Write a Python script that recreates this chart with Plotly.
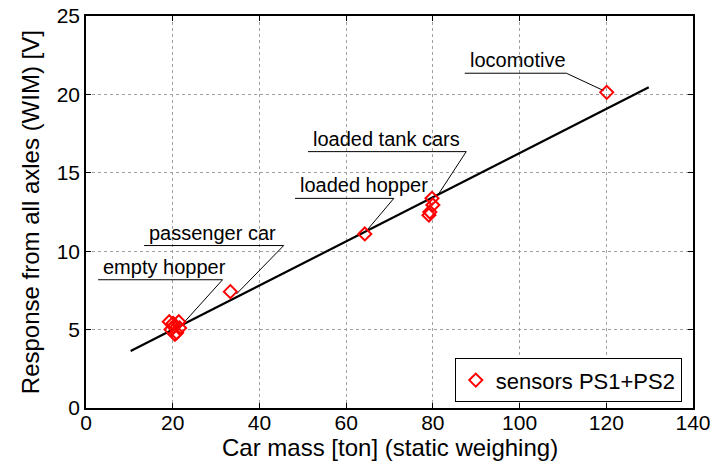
import plotly.graph_objects as go

# Measured points: car mass [ton] vs WIM response [V]
mass = [19.2, 20.1, 21.4, 19.6, 20.5, 20.9, 21.6, 20.2,
        33.3,
        64.3,
        79.8, 80.0, 79.3, 79.1,
        120.1]
response = [5.5, 5.4, 5.5, 5.0, 4.7, 4.8, 5.1, 5.2,
            7.42,
            11.1,
            13.37, 12.95, 12.5, 12.3,
            20.13]

# Linear fit line endpoints
fit_x = [10.3, 129.8]
fit_y = [3.63, 20.45]

# Annotation labels (underline start/end, underline level, target point)
label_text = ["locomotive", "loaded tank cars", "loaded hopper", "passenger car", "empty hopper"]
label_x0 = [87.35, 51.2, 48.2, 13.4, 2.8]
label_x1 = [110.8, 87.7, 71.0, 45.6, 31.5]
label_y = [21.35, 16.35, 13.37, 10.36, 8.18]
target_x = [119.4, 81.2, 65.0, 34.7, 21.7]
target_y = [20.24, 13.6, 11.4, 7.27, 5.18]

x_ticks = [0, 20, 40, 60, 80, 100, 120, 140]
y_ticks = [0, 5, 10, 15, 20, 25]

x_title = "Car mass [ton] (static weighing)"
y_title = "Response from all axles (WIM) [V]"

FONT = "Liberation Sans, Arial, Helvetica, sans-serif"

fig = go.Figure()

for i in range(len(label_text)):
    fig.add_trace(go.Scatter(
        x=[label_x0[i], label_x1[i], target_x[i]],
        y=[label_y[i], label_y[i], target_y[i]],
        mode="lines", line=dict(color="black", width=1),
        showlegend=False, hoverinfo="skip"))

fig.add_trace(go.Scatter(
    x=fit_x, y=fit_y, mode="lines",
    line=dict(color="black", width=2.2),
    showlegend=False))

fig.add_trace(go.Scatter(
    x=mass, y=response, mode="markers",
    name="sensors PS1+PS2",
    marker=dict(symbol="diamond-open", size=10, color="red",
                line=dict(color="red", width=2))))

for i in range(len(label_text)):
    fig.add_annotation(
        x=label_x0[i], y=label_y[i], xref="x", yref="y",
        text=label_text[i], showarrow=False,
        xanchor="left", yanchor="bottom", xshift=3, yshift=0,
        font=dict(family=FONT, size=20, color="black"))

# Axis titles (placed precisely relative to the plot area)
fig.add_annotation(x=0.5, y=-0.102, xref="paper", yref="paper",
                   text=x_title, showarrow=False,
                   xanchor="center", yanchor="middle",
                   font=dict(family=FONT, size=24, color="black"))
fig.add_annotation(x=-0.092, y=0.5, xref="paper", yref="paper",
                   text=y_title, showarrow=False, textangle=-90,
                   xanchor="center", yanchor="middle",
                   font=dict(family=FONT, size=24, color="black"))

axis_common = dict(
    showline=True, linecolor="black", linewidth=1.5, mirror="ticks",
    ticks="inside", ticklen=5, tickcolor="black", tickwidth=1,
    showgrid=True, gridcolor="#a0a0a0", griddash="dot", gridwidth=1,
    zeroline=False, automargin=False, ticklabeloverflow="allow",
    tickfont=dict(family=FONT, size=21, color="black"),
)

fig.update_xaxes(range=[0, 140], tickvals=x_ticks, ticklabelstandoff=-5,
                 **axis_common)
fig.update_yaxes(range=[0, 25], tickvals=y_ticks, **axis_common)

fig.update_layout(
    width=715, height=469,
    margin=dict(l=86, r=21.5, t=16, b=61),
    plot_bgcolor="white", paper_bgcolor="white",
    font=dict(family=FONT, color="black"),
    legend=dict(x=0.9815, y=0.0145, xanchor="right", yanchor="bottom",
                bordercolor="black", borderwidth=1, bgcolor="white",
                font=dict(family=FONT, size=22, color="black")),
)

# Remove the page's default body margin so the figure fills the window
fig.write_html("out.html",
               config={"displayModeBar": False},
               post_script="document.body.style.margin='0';document.body.style.overflow='hidden';")
